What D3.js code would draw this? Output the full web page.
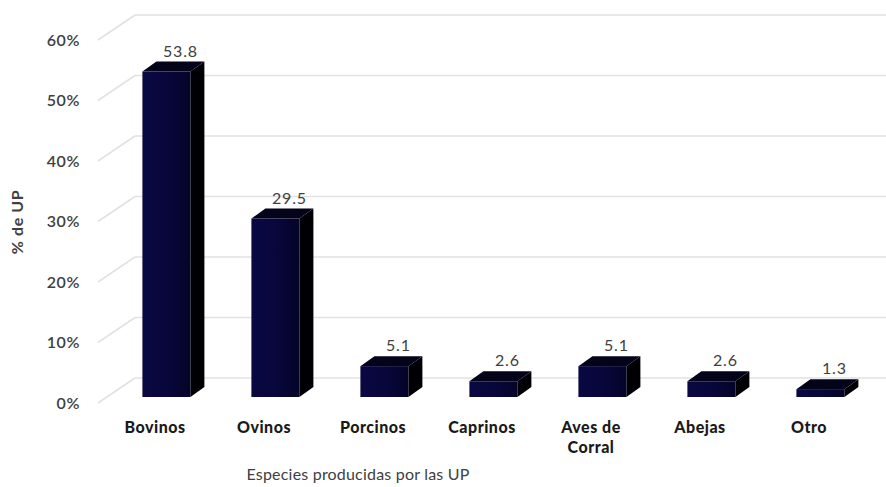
<!DOCTYPE html>
<html><head><meta charset="utf-8">
<script src="https://cdn.jsdelivr.net/npm/d3@7/dist/d3.min.js"></script>
<style>body{margin:0;background:#fff}svg{display:block}</style>
</head><body><div id="chart"></div>
<script>
const categories = ["Bovinos","Ovinos","Porcinos","Caprinos","Aves de Corral","Abejas","Otro"];
const values = [53.8, 29.5, 5.1, 2.6, 5.1, 2.6, 1.3];
const ticks = [0,10,20,30,40,50,60];
const tickLabels = ["0%","10%","20%","30%","40%","50%","60%"];
const W=886,H=487;
const svg=d3.select("#chart").append("svg").attr("width",W).attr("height",H);
const font="Lato, 'Open Sans', sans-serif";
// front plane scale
const y=d3.scaleLinear().domain([0,60]).range([403,40]);
const x=d3.scaleBand().domain(categories).range([100.5,863.5]).paddingInner(0).paddingOuter(0);
const DX=35, DY=-25; // full depth offset
const off=t=>[DX*t, DY*t];
// back wall gridlines
const g=svg.append("g");
ticks.forEach(v=>{
  const [bx,by]=off(1);
  g.append("line").attr("x1",100+bx).attr("x2",W).attr("y1",y(v)+by).attr("y2",y(v)+by)
   .attr("stroke","#e2e2e2").attr("stroke-width",1.6);
  g.append("line").attr("x1",98).attr("y1",y(v)).attr("x2",100+bx).attr("y2",y(v)+by)
   .attr("stroke","#e2e2e2").attr("stroke-width",1.6);
});
// tick labels
svg.append("g").selectAll("text").data(ticks).join("text")
 .attr("x",80).attr("y",v=>y(v)).attr("dy","0.35em").attr("text-anchor","end")
 .attr("font-family",font).attr("font-size",16).attr("font-weight",600).attr("letter-spacing",0.6).attr("fill","#404040")
 .text((v,i)=>tickLabels[i]);
// gradient
const defs=svg.append("defs");
const gr=defs.append("linearGradient").attr("id","front").attr("x1","0").attr("x2","1").attr("y1","0").attr("y2","0");
gr.append("stop").attr("offset","0").attr("stop-color","#0a0842");
gr.append("stop").attr("offset","0.55").attr("stop-color","#08063a");
gr.append("stop").attr("offset","1").attr("stop-color","#040428");
// bars
const t0=0.24,t1=0.64,bw=48;
const bars=svg.append("g");
categories.forEach((c,i)=>{
  const v=values[i];
  const [fx,fy]=off(t0),[bxo,byo]=off(t1);
  const ddx=bxo-fx, ddy=byo-fy;
  const x0=x(c)+x.bandwidth()/2+fx-21, x1=x0+bw;
  const yb=y(0)+fy, yt=y(v)+fy;
  bars.append("path").attr("d",`M${x1},${yb}L${x1},${yt}L${x1+ddx},${yt+ddy}L${x1+ddx},${yb+ddy}Z`).attr("fill","#000004");
  bars.append("path").attr("d",`M${x0},${yt}L${x1},${yt}L${x1+ddx},${yt+ddy}L${x0+ddx},${yt+ddy}Z`).attr("fill","#03031a");
  bars.append("rect").attr("x",x0).attr("y",yt).attr("width",bw).attr("height",yb-yt).attr("fill","url(#front)");
  bars.append("text").attr("x",(x0+x1)/2+ddx).attr("y",yt+ddy-5).attr("text-anchor","middle")
   .attr("font-family",font).attr("font-size",16).attr("letter-spacing",0.8).attr("fill","#404040").text(v.toFixed(1));
});
// category labels
const cl=svg.append("g");
categories.forEach(c=>{
  const words=c==="Aves de Corral"?["Aves de","Corral"]:[c];
  words.forEach((w,j)=>{
    cl.append("text").attr("x",x(c)+x.bandwidth()/2).attr("y",433+j*20).attr("text-anchor","middle")
     .attr("font-family",font).attr("font-size",16).attr("font-weight",900).attr("letter-spacing",0.5).attr("fill","#1a1a1a").text(w);
  });
});
// axis titles
svg.append("text").attr("x",358).attr("y",480).attr("text-anchor","middle")
 .attr("font-family",font).attr("font-size",16).attr("letter-spacing",0.2).attr("fill","#404040").text("Especies producidas por las UP");
svg.append("text").attr("transform","translate(23,222) rotate(-90)").attr("text-anchor","middle")
 .attr("font-family",font).attr("font-size",16).attr("font-weight",700).attr("letter-spacing",0.6).attr("fill","#404040").text("% de UP");
</script></body></html>
